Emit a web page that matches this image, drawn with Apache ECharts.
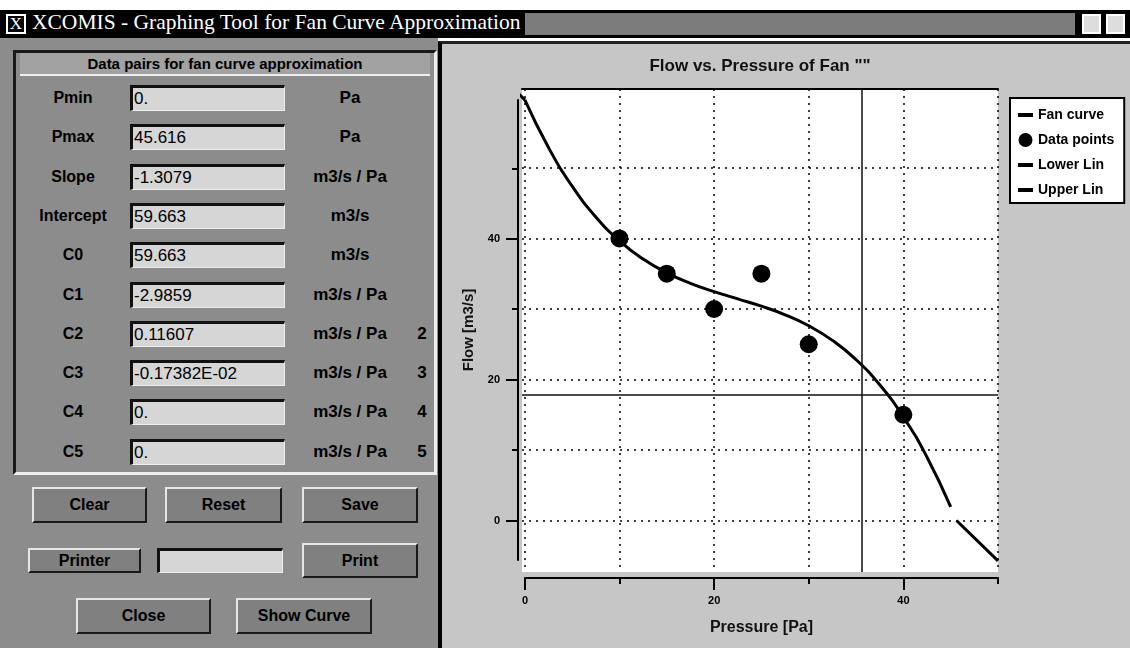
<!DOCTYPE html>
<html>
<head>
<meta charset="utf-8">
<title>XCOMIS - Graphing Tool for Fan Curve Approximation</title>
<script src="https://cdn.jsdelivr.net/npm/echarts@6/dist/echarts.min.js"></script>
<style>
  body { margin: 0; width: 1130px; height: 648px; position: relative; overflow: hidden; background: #fff;
         font-family: "Liberation Sans", Arial, sans-serif; }
  .abs { position: absolute; box-sizing: border-box; }
  #titlebar { left: 0; top: 10px; width: 1130px; height: 28px; background: #000; }
  #tbx { left: 6px; top: 4px; width: 20px; height: 20px; border: 2px solid #fff; color: #fff;
         font: 17px "Liberation Serif", serif; text-align: center; line-height: 16px; }
  #tbtitle { left: 32px; top: 0; line-height: 28px; color: #fff; font: 21.5px "Liberation Serif", serif; white-space: nowrap; }
  #tbpattern { left: 525px; top: 3px; width: 550px; height: 22px; background: #7c7c7c; }
  .tbicon { top: 4px; width: 19px; height: 20px; background: #ddd; border: 2px solid #fff; }
  #left { left: 0; top: 38px; width: 438px; height: 610px; background: #8c8c8c; }
  #right { left: 438px; top: 41px; width: 692px; height: 607px; background: #c6c6c6;
           border-left: 4px solid #000; border-top: 3px solid #222; }
  #frame { left: 13px; top: 50px; width: 424px; height: 425px; border: 3px solid #eee;
           border-top-color: #1a1a1a; border-left-color: #1a1a1a; }
  #header { left: 20px; top: 53px; width: 410px; height: 23px; background: #a2a2a2; border-bottom: 2px solid #eee;
            font-weight: bold; font-size: 15px; text-align: center; line-height: 21px; color: #000; }
  .lbl { width: 110px; text-align: center; font-weight: bold; font-size: 16px; color: #000; line-height: 26px; }
  .fld { width: 155px; height: 26px; background: #d6d6d6; border: 1px solid #eee; border-top: 3px solid #111;
         border-left: 3px solid #111; font-size: 17px; line-height: 21px; padding-left: 1px; color: #000; white-space: nowrap; }
  .unit { width: 110px; text-align: center; font-weight: bold; font-size: 17px; color: #000; line-height: 26px; white-space: nowrap; }
  .exp { width: 20px; text-align: center; font-weight: bold; font-size: 17px; color: #000; line-height: 26px; }
  .btn { background: #808080; border: 2px solid #1a1a1a; border-top-color: #e6e6e6; border-left-color: #e6e6e6;
         font-weight: bold; font-size: 16px; text-align: center; color: #000; }
  #chart { position: absolute; left: 443px; top: 45px; width: 687px; height: 603px; }
</style>
</head>
<body>
<div id="titlebar" class="abs">
  <div id="tbx" class="abs">X</div>
  <div id="tbtitle" class="abs">XCOMIS - Graphing Tool for Fan Curve Approximation</div>
  <div id="tbpattern" class="abs"></div>
  <div class="abs tbicon" style="left:1082px"></div>
  <div class="abs tbicon" style="left:1106px"></div>
</div>
<div id="left" class="abs"></div>
<div id="right" class="abs"></div>
<div id="frame" class="abs"></div>
<div id="header" class="abs">Data pairs for fan curve approximation</div>
<div id="form"></div>
<div id="chart"></div>

<script>
// form contents
const fieldLabels = ['Pmin', 'Pmax', 'Slope', 'Intercept', 'C0', 'C1', 'C2', 'C3', 'C4', 'C5']
const fieldValues = ['0.', '45.616', '-1.3079', '59.663', '59.663', '-2.9859', '0.11607', '-0.17382E-02', '0.', '0.']
const fieldUnits = ['Pa', 'Pa', 'm3/s / Pa', 'm3/s', 'm3/s', 'm3/s / Pa', 'm3/s / Pa', 'm3/s / Pa', 'm3/s / Pa', 'm3/s / Pa']
const fieldExps = ['', '', '', '', '', '', '2', '3', '4', '5']
const buttons = [
  ['Clear', 32, 487, 115, 36], ['Reset', 165, 487, 117, 36], ['Save', 302, 487, 116, 36],
  ['Printer', 28, 548, 113, 25], ['Print', 302, 543, 116, 35],
  ['Close', 76, 598, 135, 36], ['Show Curve', 236, 598, 136, 36]
]

// chart data
const pressure = [0, 2.5, 5, 7.5, 10, 12.5, 15, 17.5, 20, 22.5, 25, 27.5, 30, 32.5, 35, 37.5, 40, 42.5, 45]
const fanFlow = [59.66, 52.90, 47.42, 43.06, 39.67, 37.08, 35.12, 33.64, 32.47, 31.44, 30.40, 29.18, 27.62, 25.55, 22.82, 19.25, 14.69, 8.98, 1.94]
const pointP = [10, 15, 20, 25, 30, 40]
const pointQ = [40, 35, 30, 35, 25, 15]
const lowerP = [-10, 0]
const lowerQ = [72.74, 59.66]
const upperP = [45.616, 50]
const upperQ = [0, -5.73]
const cursorP = 35.6
const cursorQ = 17.8
const gridTicks = [0, 10, 20, 30, 40, 50]
const majorTicks = [0, 20, 40]
const minorTicks = [10, 30, 50]

const form = document.getElementById('form')
function box(cls, text, x, y, w, h) {
  const d = document.createElement('div')
  d.className = 'abs ' + cls
  d.textContent = text
  d.style.left = x + 'px'
  d.style.top = y + 'px'
  if (w) d.style.width = w + 'px'
  if (h) { d.style.height = h + 'px'; d.style.lineHeight = (h - 4) + 'px' }
  form.appendChild(d)
  return d
}
fieldLabels.forEach((name, i) => {
  const y = Math.round(98 + i * 39.3) - 13
  box('lbl', name, 18, y)
  const f = box('fld', fieldValues[i], 130, y)
  f.style.lineHeight = '21px'
  box('unit', fieldUnits[i], 295, y)
  box('exp', fieldExps[i], 412, y)
})
buttons.forEach(([t, x, y, w, h]) => box('btn', t, x, y, w, h))
box('fld', '', 157, 548, 126, 25)

const zip = (a, b) => a.map((v, i) => [v, b[i]])
const black = '#000'
const dotted = { color: black, width: 1.5, type: [2, 5] }
const solidAxis = { show: true, onZero: false, lineStyle: { color: black, width: 2 } }

const chart = echarts.init(document.getElementById('chart'))
chart.setOption({
  animation: false,
  textStyle: { fontFamily: '"Liberation Sans", Arial, sans-serif' },
  title: {
    text: 'Flow vs. Pressure of Fan ""',
    left: 317,
    top: 13,
    padding: 0,
    textAlign: 'center',
    textStyle: { fontSize: 17, fontWeight: 'bold', color: '#111' }
  },
  legend: {
    orient: 'vertical',
    left: 567,
    top: 53,
    padding: [10, 10, 6, 8],
    itemWidth: 15,
    itemHeight: 14,
    itemGap: 11,
    backgroundColor: '#fff',
    borderColor: black,
    borderWidth: 2,
    borderRadius: 0,
    selectedMode: false,
    textStyle: { fontSize: 14, fontWeight: 'bold', color: black },
    data: [
      { name: 'Fan curve', icon: 'path://M0,0 L15,0 L15,4 L0,4 Z' },
      { name: 'Data points', icon: 'circle' },
      { name: 'Lower Lin', icon: 'path://M0,0 L15,0 L15,4 L0,4 Z' },
      { name: 'Upper Lin', icon: 'path://M0,0 L15,0 L15,4 L0,4 Z' }
    ]
  },
  grid: [
    { left: 79, top: 44, width: 476, height: 483, show: true, backgroundColor: '#fff', borderWidth: 0, outerBoundsMode: 'none' },
    { left: 82, top: 55, width: 473, height: 460, show: false, outerBoundsMode: 'none' }
  ],
  xAxis: [
    {
      type: 'value', gridIndex: 0, min: -0.3, max: 50,
      axisLine: { show: false, onZero: false },
      axisTick: { show: false, customValues: gridTicks },
      axisLabel: { show: false },
      splitLine: { show: true, lineStyle: dotted }
    },
    {
      type: 'value', gridIndex: 0, position: 'top', min: -0.3, max: 50,
      axisLine: solidAxis,
      axisTick: { show: false }, axisLabel: { show: false }, splitLine: { show: false }
    },
    {
      type: 'value', gridIndex: 1, position: 'bottom', offset: 18, min: 0, max: 50,
      axisLine: solidAxis,
      axisTick: { show: true, length: 12, lineStyle: { color: black, width: 2 }, customValues: majorTicks },
      axisLabel: { show: true, customValues: majorTicks, margin: 17, fontSize: 11, fontWeight: 'bold', color: black },
      splitLine: { show: false },
      name: 'Pressure [Pa]', nameLocation: 'middle', nameGap: 42,
      nameTextStyle: { fontSize: 16, fontWeight: 'bold', color: '#111' }
    },
    {
      type: 'value', gridIndex: 1, position: 'bottom', offset: 18, min: 0, max: 50,
      axisLine: { show: false, onZero: false },
      axisTick: { show: true, length: 6, lineStyle: { color: black, width: 2 }, customValues: minorTicks },
      axisLabel: { show: false }, splitLine: { show: false }
    }
  ],
  yAxis: [
    {
      type: 'value', gridIndex: 0, min: -7.3, max: 61.2,
      axisLine: { show: false, onZero: false },
      axisTick: { show: false, customValues: gridTicks },
      axisLabel: { show: false },
      splitLine: { show: true, lineStyle: dotted }
    },
    {
      type: 'value', gridIndex: 1, position: 'left', offset: 7, min: -5.6, max: 59.7,
      axisLine: solidAxis,
      axisTick: { show: true, length: 12, lineStyle: { color: black, width: 2 }, customValues: majorTicks },
      axisLabel: { show: true, customValues: majorTicks, margin: 18, fontSize: 11, fontWeight: 'bold', color: black },
      splitLine: { show: false },
      name: 'Flow [m3/s]', nameLocation: 'middle', nameGap: 42, nameRotate: 90,
      nameTextStyle: { fontSize: 15, fontWeight: 'bold', color: '#111' }
    },
    {
      type: 'value', gridIndex: 1, position: 'left', offset: 7, min: -5.6, max: 59.7,
      axisLine: { show: false, onZero: false },
      axisTick: { show: true, length: 6, lineStyle: { color: black, width: 2 }, customValues: minorTicks },
      axisLabel: { show: false }, splitLine: { show: false }
    }
  ],
  series: [
    {
      name: 'Fan curve', type: 'line', xAxisIndex: 0, yAxisIndex: 0,
      data: zip(pressure, fanFlow), smooth: true, symbol: 'none',
      itemStyle: { color: black }, lineStyle: { color: black, width: 3 },
      markLine: {
        silent: true, symbol: ['none', 'none'], label: { show: false },
        lineStyle: { color: '#111', width: 1.5, type: 'solid' },
        data: [{ xAxis: cursorP }, { yAxis: cursorQ }]
      }
    },
    {
      name: 'Data points', type: 'scatter', xAxisIndex: 0, yAxisIndex: 0,
      data: zip(pointP, pointQ), symbolSize: 18, itemStyle: { color: black, opacity: 1 }
    },
    {
      name: 'Lower Lin', type: 'line', xAxisIndex: 0, yAxisIndex: 0,
      data: zip(lowerP, lowerQ), symbol: 'none',
      itemStyle: { color: black }, lineStyle: { color: black, width: 3 }
    },
    {
      name: 'Upper Lin', type: 'line', xAxisIndex: 0, yAxisIndex: 0,
      data: zip(upperP, upperQ), symbol: 'none',
      itemStyle: { color: black }, lineStyle: { color: black, width: 3 }
    }
  ]
})
</script>
</body>
</html>
